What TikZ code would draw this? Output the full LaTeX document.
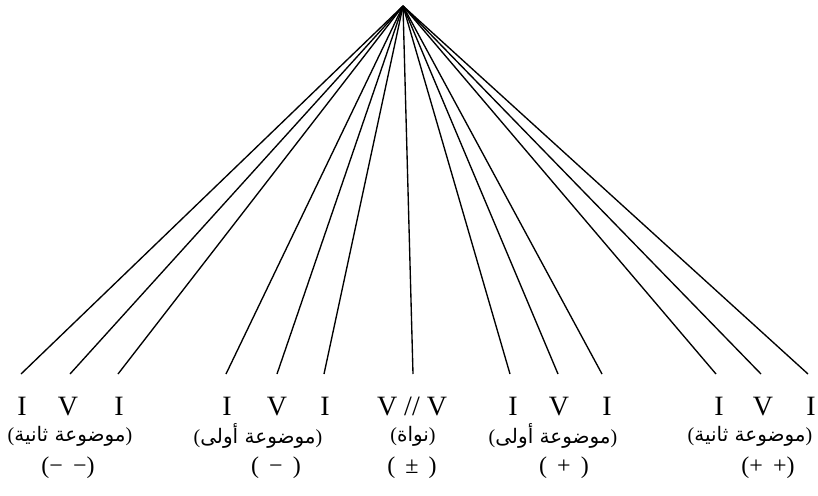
\documentclass[tikz,border=0pt]{standalone}
\usepackage{fontspec}
\setmainfont{Liberation Serif}
\newfontfamily\arabicfont[Script=Arabic]{DejaVu Sans}
\TeXXeTstate=1
\newcommand{\artxt}[1]{\mbox{(}\mbox{\arabicfont\beginR #1\endR}\mbox{)}}
\newcommand{\sgap}{\hspace{0.42em}}
\begin{document}
\begin{tikzpicture}[x=1pt,y=-1pt,
  fan/.style={line width=1.35pt},
  lbl/.style={font=\fontsize{28}{28}\selectfont, inner sep=0pt, anchor=base},
  ar/.style={font=\fontsize{20}{20}\selectfont, inner sep=0pt},
  sgn/.style={font=\fontsize{24}{24}\selectfont, inner sep=0pt}]
\useasboundingbox (0,0) rectangle (818,495);
\coordinate (apex) at (403,6);
% line ends
\coordinate (e1) at (21,374);
\coordinate (e2) at (70,374);
\coordinate (e3) at (118,374);
\coordinate (e4) at (226,374);
\coordinate (e5) at (277,374);
\coordinate (e6) at (324,374);
\coordinate (e7) at (413,374);
\coordinate (e8) at (510,374);
\coordinate (e9) at (558,374);
\coordinate (e10) at (602,374);
\coordinate (e11) at (716,374);
\coordinate (e12) at (761,374);
\coordinate (e13) at (808,374);
\foreach \i in {1,...,13} \draw[fan] (apex) -- (e\i);
% letters
\node[lbl] (l1) at (22,415) {I};
\node[lbl] (l2) at (68,415) {V};
\node[lbl] (l3) at (119,415) {I};
\node[lbl] (l4) at (227,415) {I};
\node[lbl] (l5) at (277,415) {V};
\node[lbl] (l6) at (325,415) {I};
\node[lbl] (l7) at (412,415) {V // V};
\node[lbl] (l8) at (513,415) {I};
\node[lbl] (l9) at (559,415) {V};
\node[lbl] (l10) at (607,415) {I};
\node[lbl] (l11) at (719,415) {I};
\node[lbl] (l12) at (763,415) {V};
\node[lbl] (l13) at (811,415) {I};
% arabic
\node[ar] (a1) at (70,436) {\artxt{موضوعة ثانية}};
\node[ar] (a2) at (258,436) {\artxt{موضوعة أولى}};
\node[ar] (a3) at (413,436) {\artxt{نواة}};
\node[ar] (a4) at (553,436) {\artxt{موضوعة أولى}};
\node[ar] (a5) at (750,436) {\artxt{موضوعة ثانية}};
% signs
\node[sgn] (s1) at (68,468) {(−\sgap−)};
\node[sgn] (s2) at (276,468) {(\sgap−\sgap)};
\node[sgn] (s3) at (412,468) {(\sgap±\sgap)};
\node[sgn] (s4) at (564,468) {(\sgap+\sgap)};
\node[sgn] (s5) at (768,468) {(+\sgap+)};
\end{tikzpicture}
\end{document}
